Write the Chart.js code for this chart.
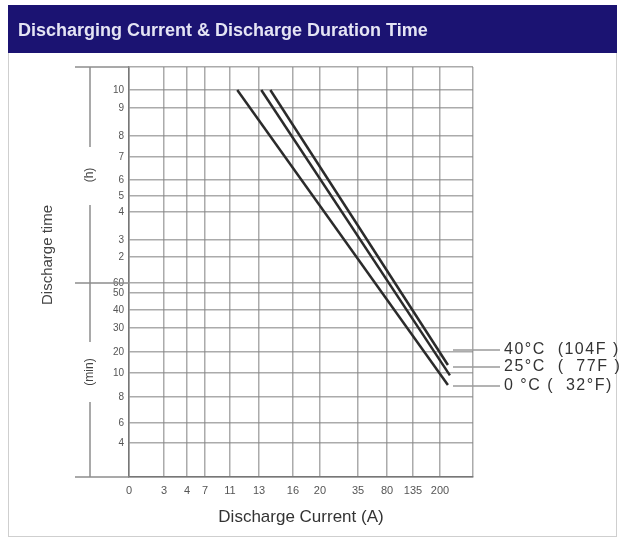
<!DOCTYPE html>
<html>
<head>
<meta charset="utf-8">
<script src="https://cdn.jsdelivr.net/npm/chart.js@4/dist/chart.umd.min.js"></script>
<style>
  html, body { margin: 0; padding: 0; background: #fff; }
  #wrap { width: 627px; height: 540px; }
</style>
</head>
<body>
<div id="wrap"><canvas id="myChart" width="627" height="540"></canvas></div>
<script>
// x axis: discharge current (A), hand-drawn uneven scale
const xTickValues = [0, 3, 4, 7, 11, 13, 16, 20, 35, 80, 135, 200, 250];
const xTickLabels = ["0", "3", "4", "7", "11", "13", "16", "20", "35", "80", "135", "200", ""];
// where each x tick sits along the axis (0 = left, 1 = right)
const xTickFrac = [0, 0.1017, 0.1686, 0.2209, 0.2936, 0.3779, 0.4767, 0.5552, 0.6657, 0.75, 0.8256, 0.9041, 1];

// y axis: discharge time in minutes, bottom to top
const yTickValues = [0, 4, 6, 8, 10, 20, 30, 40, 50, 60, 120, 180, 240, 300, 360, 420, 480, 540, 600, 660];
const yTickLabels = ["", "4", "6", "8", "10", "20", "30", "40", "50", "60", "2", "3", "4", "5", "6", "7", "8", "9", "10", ""];
// where each y tick sits along the axis (0 = bottom, 1 = top)
const yTickFrac = [0, 0.0829, 0.1317, 0.1951, 0.2537, 0.3049, 0.3634, 0.4073, 0.4488, 0.4732,
  0.5366, 0.578, 0.6463, 0.6854, 0.7244, 0.7805, 0.8317, 0.9, 0.9439, 1];

// series (current A, time min)
const seriesNames = ["40\u00b0C  (104F )", "25\u00b0C  (  77F )", "0 \u00b0C (  32\u00b0F)"];
const current40C = [14, 212];
const time40C = [600, 13.8];
const current25C = [13.2, 215];
const time25C = [600, 9.8];
const current0C = [11.5, 212];
const time0C = [600, 9];

const FONT = "'Liberation Sans', Arial, sans-serif";

// scale that maps values piecewise-linearly between the given ticks
class WarpScale extends Chart.LinearScale {
  determineDataLimits() {
    const k = this.options.knots;
    this.min = k[0];
    this.max = k[k.length - 1];
  }
  buildTicks() {
    return this.options.knots.map((v) => ({ value: v }));
  }
  toDecimal(value) {
    const k = this.options.knots;
    const f = this.options.fractions;
    let i = 0;
    while (i < k.length - 2 && value > k[i + 1]) i++;
    return f[i] + ((value - k[i]) / (k[i + 1] - k[i])) * (f[i + 1] - f[i]);
  }
  getPixelForValue(value) {
    return this.getPixelForDecimal(this.toDecimal(value));
  }
  getValueForPixel(pixel) {
    const d = this.getDecimalForPixel(pixel);
    const k = this.options.knots;
    const f = this.options.fractions;
    let i = 0;
    while (i < f.length - 2 && d > f[i + 1]) i++;
    return k[i] + ((d - f[i]) / (f[i + 1] - f[i])) * (k[i + 1] - k[i]);
  }
}
WarpScale.id = "warp";
WarpScale.defaults = Chart.LinearScale.defaults;
Chart.register(WarpScale);

const toPoints = (xs, ys) => xs.map((x, i) => ({ x: x, y: ys[i] }));

const gridColor = "rgba(135,135,135,0.7)";

// title bar, frame, side brackets and temperature labels
const decorations = {
  id: "decorations",
  beforeDraw(chart) {
    const c = chart.ctx;
    c.save();
    c.fillStyle = "#fff";
    c.fillRect(0, 0, chart.width, chart.height);
    c.strokeStyle = "#cfcfcf";
    c.lineWidth = 1;
    c.strokeRect(8.5, 5.5, 608, 531);
    c.fillStyle = "#1b1372";
    c.fillRect(8, 5, 609, 48);
    c.fillStyle = "#e4e4f4";
    c.font = "bold 18px " + FONT;
    c.textBaseline = "middle";
    c.fillText("Discharging Current & Discharge Duration Time", 18, 31);
    c.restore();
  },
  afterDraw(chart) {
    const c = chart.ctx;
    const area = chart.chartArea;
    const y = chart.scales.y;
    const yTop = area.top;
    const yHour = y.getPixelForValue(60);
    const yBot = area.bottom;
    c.save();
    c.strokeStyle = "#8c8c8c";
    c.lineWidth = 1.5;
    // left extensions of the top, 60 min and 0 lines
    [yTop, yHour, yBot].forEach((py) => {
      c.beginPath();
      c.moveTo(75, py);
      c.lineTo(area.left, py);
      c.stroke();
    });
    // bracket with (h) and (min)
    const hMid = (yTop + yHour) / 2;
    const mMid = (yHour + yBot) / 2 - 8;
    const segs = [[yTop, hMid - 28], [hMid + 30, mMid - 30], [mMid + 30, yBot]];
    segs.forEach((s) => {
      c.beginPath();
      c.moveTo(90, s[0]);
      c.lineTo(90, s[1]);
      c.stroke();
    });
    c.fillStyle = "#444";
    c.textAlign = "center";
    c.textBaseline = "middle";
    const vText = (txt, px, py, font) => {
      c.save();
      c.translate(px, py);
      c.rotate(-Math.PI / 2);
      c.font = font;
      c.fillText(txt, 0, 0);
      c.restore();
    };
    vText("(h)", 90, hMid, "12px " + FONT);
    vText("(min)", 90, mMid, "12px " + FONT);
    vText("Discharge time", 48, 255, "15px " + FONT);

    // temperature labels with leader lines
    const labelY = [350, 367, 386];
    c.textAlign = "left";
    c.font = "16px " + FONT;
    c.letterSpacing = "1.5px";
    c.fillStyle = "#333";
    seriesNames.forEach((name, i) => {
      c.strokeStyle = "#9a9a9a";
      c.beginPath();
      c.moveTo(453, labelY[i]);
      c.lineTo(500, labelY[i]);
      c.stroke();
      c.fillText(name, 504, labelY[i]);
    });
    c.restore();
  },
};

const lineStyle = {
  borderColor: "#2b2b2b",
  borderWidth: 2.5,
  pointRadius: 0,
  fill: false,
  tension: 0,
  clip: false,
};

const ctx = document.getElementById("myChart");
new Chart(ctx, {
  type: "line",
  data: {
    datasets: [
      { label: seriesNames[0], data: toPoints(current40C, time40C), ...lineStyle },
      { label: seriesNames[1], data: toPoints(current25C, time25C), ...lineStyle },
      { label: seriesNames[2], data: toPoints(current0C, time0C), ...lineStyle },
    ],
  },
  options: {
    responsive: false,
    animation: false,
    devicePixelRatio: 1,
    layout: { padding: { left: 0, top: 67, right: 154, bottom: 0 } },
    plugins: { legend: { display: false }, tooltip: { enabled: false } },
    scales: {
      x: {
        type: "warp",
        knots: xTickValues,
        fractions: xTickFrac,
        grid: { color: gridColor, lineWidth: 1.5, drawTicks: false },
        border: { color: "#777", width: 1.5 },
        ticks: {
          autoSkip: false,
          maxRotation: 0,
          padding: 7,
          color: "#555",
          font: { size: 11, family: FONT },
          callback: (v, i) => xTickLabels[i],
        },
        title: {
          display: true,
          text: "Discharge Current (A)",
          color: "#333",
          font: { size: 17, family: FONT },
          padding: { top: 0, bottom: 12 },
        },
        afterFit: (scale) => { scale.height = 63; },
      },
      y: {
        type: "warp",
        position: "left",
        knots: yTickValues,
        fractions: yTickFrac,
        grid: { color: gridColor, lineWidth: 1.5, drawTicks: false },
        border: { color: "#777", width: 1.5 },
        ticks: {
          autoSkip: false,
          padding: 5,
          color: "#555",
          font: { size: 10, family: FONT },
          callback: (v, i) => yTickLabels[i],
        },
        afterFit: (scale) => { scale.width = 129; },
      },
    },
  },
  plugins: [decorations],
});
</script>
</body>
</html>
